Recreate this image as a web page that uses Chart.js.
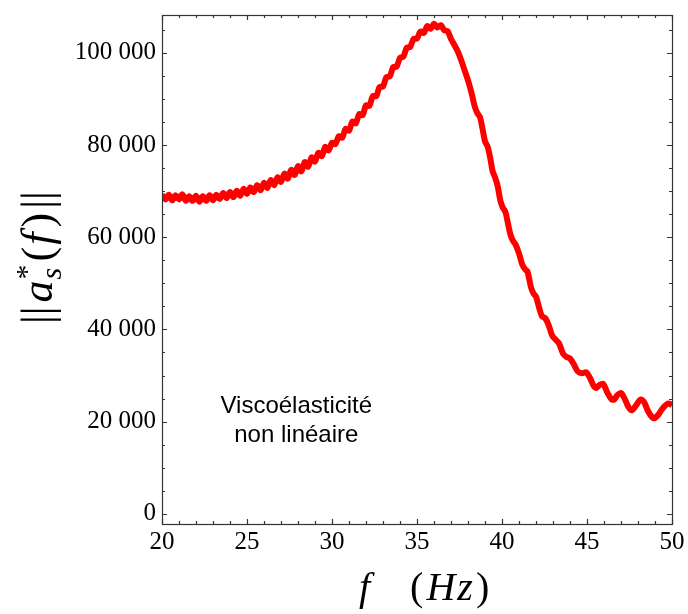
<!DOCTYPE html>
<html>
<head>
<meta charset="utf-8">
<script src="https://cdn.jsdelivr.net/npm/chart.js@4/dist/chart.umd.min.js"></script>
<style>
  body { margin: 0; background: #fff; }
  #wrap { width: 688px; height: 614px; position: relative; }
</style>
</head>
<body>
<div id="wrap"><canvas id="chartID"></canvas></div>
<script>
// frequency (Hz) and amplitude
const freq = [
  20.0, 20.2, 20.4, 20.6, 20.8, 21.0, 21.2, 21.4, 21.6, 21.8,
  22.0, 22.2, 22.4, 22.6, 22.8, 23.0, 23.2, 23.4, 23.6, 23.8,
  24.0, 24.2, 24.4, 24.6, 24.8, 25.0, 25.2, 25.4, 25.6, 25.8,
  26.0, 26.2, 26.4, 26.6, 26.8, 27.0, 27.2, 27.4, 27.6, 27.8,
  28.0, 28.2, 28.4, 28.6, 28.8, 29.0, 29.2, 29.4, 29.6, 29.8,
  30.0, 30.2, 30.4, 30.6, 30.8, 31.0, 31.2, 31.4, 31.6, 31.8,
  32.0, 32.2, 32.4, 32.6, 32.8, 33.0, 33.2, 33.4, 33.6, 33.8,
  34.0, 34.2, 34.4, 34.6, 34.8, 35.0, 35.2, 35.4, 35.6, 35.8,
  36.0, 36.2, 36.4, 36.6, 36.8, 37.0, 37.2, 37.4, 37.6, 37.8,
  38.0, 38.2, 38.4, 38.55, 38.7, 38.85, 39.0, 39.15, 39.3, 39.45,
  39.6, 39.75, 39.9, 40.05, 40.2, 40.35, 40.5, 40.65, 40.8, 41.0,
  41.2, 41.35, 41.5, 41.7, 41.85, 42.0, 42.2, 42.35, 42.55, 42.75,
  42.95, 43.15, 43.35, 43.6, 43.8, 44.0, 44.2, 44.45, 44.7, 44.95,
  45.2, 45.4, 45.55, 45.75, 45.95, 46.2, 46.45, 46.6, 46.8, 47.0,
  47.2, 47.45, 47.65, 47.9, 48.15, 48.35, 48.6, 48.85, 49.0, 49.2,
  49.45, 49.7, 49.85, 50.0
]
const amplitude = [
  69200, 68200, 69200, 68000, 69100, 68200, 69300, 67900, 68900, 67900,
  69000, 67700, 68900, 67900, 69100, 68000, 69200, 68300, 69600, 68500,
  69800, 68700, 70100, 69000, 70500, 69400, 70800, 69800, 71300, 70200,
  71800, 70700, 72400, 71300, 73000, 72000, 73800, 72700, 74600, 73500,
  75400, 74300, 76300, 75300, 77300, 76400, 78300, 77600, 79600, 78800,
  80500, 80200, 81900, 81600, 83500, 83100, 85100, 84700, 86700, 86500,
  88600, 88500, 90600, 90600, 92600, 92700, 94700, 94900, 96900, 97000,
  98900, 99200, 101100, 101300, 103000, 103100, 104600, 104300, 105800, 105200,
  106300, 105500, 106000, 104900, 104700, 103000, 101700, 100300, 98400, 96200,
  94000, 91400, 88300, 86900, 86100, 83600, 80800, 79700, 77300, 74300,
  72900, 71000, 68000, 66400, 65500, 63000, 60500, 59200, 58400, 56500,
  54000, 53100, 52500, 49200, 47800, 47100, 44500, 42900, 42400, 40900,
  38700, 37800, 37000, 34700, 34000, 33700, 32600, 30900, 30500, 30700,
  29300, 27700, 27300, 28000, 28200, 26300, 24800, 24800, 25800, 26200,
  25100, 23100, 22500, 23600, 24800, 24300, 22200, 20900, 20800, 21500,
  22900, 23800, 23900, 23500
]
const xTicks = [20, 25, 30, 35, 40, 45, 50]
const yTicks = [0, 20000, 40000, 60000, 80000, 100000]
const noteLines = ['Viscoélasticité', 'non linéaire']

const serif = '"Liberation Serif", "DejaVu Serif", serif'

// frame with inward ticks, axis titles and the note
const framePlugin = {
  id: 'frame',
  afterDraw(chart) {
    const ctx = chart.ctx
    const a = chart.chartArea
    const x = chart.scales.x
    const y = chart.scales.y
    ctx.save()
    ctx.strokeStyle = '#333'
    ctx.lineWidth = 1.2
    ctx.strokeRect(a.left + 0.5, a.top + 0.5, a.right - a.left, a.bottom - a.top)
    ctx.beginPath()
    for (let v = 20; v <= 50; v++) {
      const px = Math.round(x.getPixelForValue(v)) + 0.5
      const len = v % 5 === 0 ? 5 : 3
      ctx.moveTo(px, a.bottom); ctx.lineTo(px, a.bottom - len)
      ctx.moveTo(px, a.top); ctx.lineTo(px, a.top + len)
    }
    for (let v = 0; v <= 105000; v += 5000) {
      const py = Math.round(y.getPixelForValue(v)) + 0.5
      const len = v % 20000 === 0 ? 5 : 3
      ctx.moveTo(a.left, py); ctx.lineTo(a.left + len, py)
      ctx.moveTo(a.right, py); ctx.lineTo(a.right - len, py)
    }
    ctx.stroke()

    // note
    ctx.fillStyle = '#000'
    ctx.font = '24px "Liberation Sans", Arial, sans-serif'
    ctx.textAlign = 'center'
    ctx.textBaseline = 'alphabetic'
    const nx = x.getPixelForValue(27.9)
    ctx.fillText(noteLines[0], nx, y.getPixelForValue(21900))
    ctx.fillText(noteLines[1], nx, y.getPixelForValue(15600))

    // x title: f   (Hz)
    ctx.textAlign = 'left'
    let cx = 359
    const by = 600
    const put = (txt, font, dx) => {
      ctx.font = font
      ctx.fillText(txt, cx, by)
      cx += ctx.measureText(txt).width + (dx || 0)
    }
    put('f', 'italic 40px ' + serif, 40)
    put('(', '40px ' + serif, 3)
    put('H', 'italic 40px ' + serif, 2)
    put('z', 'italic 40px ' + serif, 3)
    put(')', '40px ' + serif, 0)

    // y title: ||a*_s(f)||, rotated
    ctx.translate(52, 324)
    ctx.rotate(-Math.PI / 2)
    let tx = 0
    const putR = (txt, font, gap) => {
      ctx.font = font
      ctx.fillText(txt, tx, 0)
      tx += ctx.measureText(txt).width + (gap || 0)
    }
    putR('||', '44px ' + serif, 4)
    putR('a', 'italic 44px ' + serif, 1)
    ctx.font = '30px ' + serif
    ctx.fillText('*', tx, -16)
    const ws = ctx.measureText('*').width
    ctx.font = 'italic 30px ' + serif
    ctx.fillText('s', tx, 9)
    tx += Math.max(ws, ctx.measureText('s').width) + 3
    putR('(', '44px ' + serif, 2)
    putR('f', 'italic 44px ' + serif, 5)
    putR(')', '44px ' + serif, 4)
    putR('||', '44px ' + serif, 0)
    ctx.restore()
  }
}

const points = freq.map((f, i) => ({ x: f, y: amplitude[i] }))

window.onload = function() {
  const chartCtx = document.getElementById('chartID').getContext('2d')
  window.lineChart = new Chart(chartCtx, {
    type: 'line',
    data: {
      datasets: [{
        data: points,
        borderColor: '#ff0000',
        borderWidth: 6,
        pointRadius: 0,
        tension: 0.3,
        fill: false,
        borderJoinStyle: 'round',
        borderCapStyle: 'butt',
      }],
    },
    options: {
      responsive: true,
      maintainAspectRatio: false,
      animation: false,
      layout: { padding: { top: 15, right: 16, left: 0, bottom: 0 } },
      plugins: { legend: { display: false }, tooltip: { enabled: false } },
      scales: {
        x: {
          type: 'linear',
          min: 20,
          max: 50,
          grid: { display: false, drawTicks: false, tickLength: 0 },
          border: { display: false },
          afterBuildTicks: s => { s.ticks = xTicks.map(v => ({ value: v })) },
          afterFit: s => { s.height = 90; s.paddingLeft = 0; s.paddingRight = 0 },
          ticks: {
            font: { family: serif, size: 25 },
            color: '#000',
            padding: 3,
            maxRotation: 0,
          },
        },
        y: {
          min: -2200,
          max: 108200,
          grid: { display: false, drawTicks: false, tickLength: 0 },
          border: { display: false },
          afterBuildTicks: s => { s.ticks = yTicks.map(v => ({ value: v })) },
          afterFit: s => { s.width = 162; s.paddingTop = 0; s.paddingBottom = 0 },
          ticks: {
            font: { family: serif, size: 25 },
            color: '#000',
            padding: 6,
            callback: v => String(v).replace(/\B(?=(\d{3})+(?!\d))/g, ' '),
          },
        },
      },
    },
    plugins: [framePlugin],
  })
}
</script>
</body>
</html>
